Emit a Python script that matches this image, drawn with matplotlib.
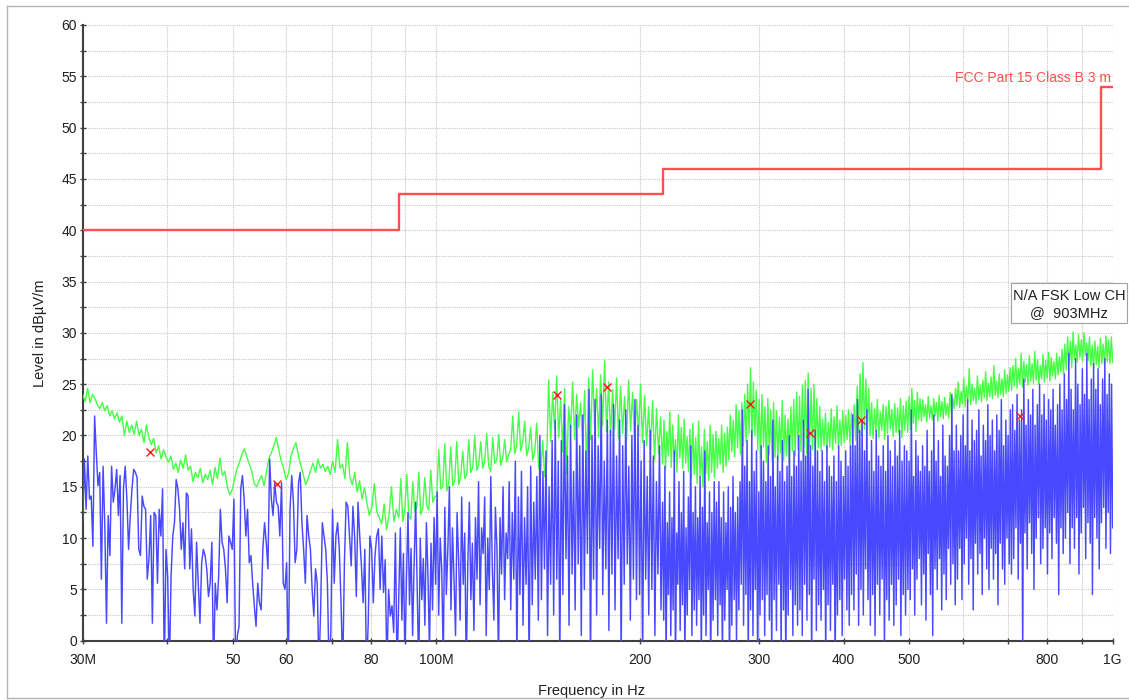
import numpy as np
import matplotlib
matplotlib.use("Agg")
import matplotlib.pyplot as plt
from matplotlib.ticker import FixedLocator, NullLocator, MultipleLocator
from matplotlib.lines import Line2D
from matplotlib.patches import Rectangle

plt.rcParams["font.family"] = ["Liberation Sans", "DejaVu Sans"]
# keep every sweep point of the dense traces
plt.rcParams["path.simplify"] = False

MHZ = 1e6

# Sweep sub-ranges in MHz; each trace is stored as one list per sub-range
band_edges = [30, 88, 216, 500, 1000]

# Peak trace (green), dBuV/m
peak_30_88 = [
    24.0, 23.3, 24.6, 23.2, 24.0, 23.6, 23.0, 22.6, 23.2, 22.4, 22.9, 21.9,
    22.4, 21.6, 22.2, 21.3, 21.9, 20.0, 21.4, 20.3, 21.0, 20.1, 21.4, 20.0,
    20.6, 19.3, 21.0, 19.8, 19.1, 19.7, 18.3, 19.0, 17.7, 18.6, 17.9,
    17.4, 18.0, 16.7, 17.3, 16.4, 17.6, 16.8, 18.1, 16.6, 17.0, 15.5, 16.4,
    15.9, 16.8, 15.4, 16.2, 15.7, 16.6, 15.2, 16.9, 15.8, 17.8, 16.1, 16.5,
    15.0, 14.2, 14.7, 15.8, 16.8, 17.4, 18.2, 18.7, 17.9, 17.2, 16.5, 15.3,
    15.0, 15.6, 16.1, 15.1, 16.5, 17.8, 18.3, 19.0, 19.8, 18.6, 17.5, 16.8,
    15.7, 16.3, 18.0, 18.7, 19.3, 18.1, 17.1, 16.2, 15.2, 15.8, 16.6, 17.3,
    16.4, 17.7, 16.8, 17.2, 16.5, 17.0, 16.2, 17.5, 16.4, 19.6, 16.8, 17.2,
    15.8, 19.3, 16.0, 15.2, 16.4, 14.5, 15.6, 13.8, 14.9, 13.4, 12.2, 13.0,
    15.3, 12.6, 12.0, 11.4, 13.3, 10.8, 12.2, 15.0, 11.6, 12.8,
]
peak_88_216 = [
    12.0, 15.8, 11.6, 12.8, 16.2, 12.2, 11.8, 15.5, 12.6, 13.0, 16.4, 12.3,
    12.9, 15.9, 13.2, 12.7, 16.6, 13.5, 14.0,
    14.2, 18.6, 14.8, 15.0, 19.2, 14.6, 15.3, 18.9, 15.1, 15.6, 19.4, 15.2,
    16.0, 18.5, 15.8, 16.2, 19.6,
    16.4, 16.9, 20.0, 16.6, 17.2, 19.4, 16.8, 17.5, 20.2, 17.0, 16.5, 19.8,
    17.3, 17.6, 20.1, 17.1, 17.8, 19.6, 17.4, 18.2,
    18.6, 21.9, 18.2, 19.0, 22.3, 18.5, 19.3, 21.4, 18.0, 18.8,
    20.8, 17.6, 18.4, 21.2, 17.0, 16.2, 19.5, 16.0, 17.4,
    25.4, 19.4, 24.2, 20.6, 25.8, 19.8, 23.5, 18.4, 24.6, 16.2, 22.8, 20.4,
    25.2, 19.6, 24.0, 20.8, 23.2, 19.1, 24.4, 16.5,
    25.6, 19.6, 26.4, 20.8, 24.6, 19.8, 25.9, 21.0, 27.3, 20.4, 25.2, 19.9, 24.5,
    20.6, 25.6, 19.7, 24.8, 20.2, 23.8, 19.5, 25.4, 20.5, 24.2, 19.4, 23.5,
    20.1, 25.0, 19.3, 23.9, 19.0, 22.8,
    18.5, 23.4, 17.6, 22.6, 18.2, 21.8,
]
peak_216_500 = [
    17.2, 21.5, 16.6, 20.4, 18.0, 22.3, 16.9, 21.0, 17.5, 19.6, 16.4, 22.0,
    17.8, 20.8, 16.8, 21.6, 17.3, 19.9, 16.5, 20.6, 15.8, 21.2, 16.2,
    19.8, 15.3, 21.4, 16.0, 18.9, 15.0, 20.6, 16.3, 19.4, 15.6, 21.0, 16.4, 20.1, 15.9,
    20.4, 16.8, 19.7, 17.2, 21.0, 16.4, 20.2, 17.0, 20.8,
    17.6, 22.0, 18.4, 21.5, 17.9, 23.0, 18.8, 22.4, 18.2, 23.2, 19.0, 24.0,
    19.4, 25.0, 20.2, 26.6, 19.6, 25.2, 20.0,
    24.4, 18.6, 23.5, 17.8, 24.0, 18.9, 22.8, 17.4, 23.6, 18.2, 22.5, 17.6, 23.2, 17.9,
    22.4, 17.5, 21.8, 18.3, 23.4, 17.6, 22.0, 18.0, 21.6, 17.4, 22.8, 18.5,
    23.5, 18.0, 24.2, 18.6,
    23.8, 18.4, 24.9, 18.9, 25.4, 18.2, 26.1, 19.0, 24.6, 18.6, 25.0, 18.3, 23.6, 18.8,
    22.8, 18.5, 21.6, 19.0, 22.2, 18.4, 21.3, 18.9, 22.6, 18.6, 21.8, 19.2,
    22.9, 18.7, 21.5, 19.0, 22.4,
    19.3, 22.0, 19.6, 22.5, 19.1, 22.2, 19.8, 23.0, 19.5,
    24.8, 20.3, 26.0, 20.0, 27.1, 20.6, 25.5, 20.2, 24.6,
    20.0, 23.2, 19.7, 22.6, 20.4, 23.5, 19.8, 22.3, 20.5, 23.0, 19.6, 22.8,
    20.2, 23.4, 20.6, 22.5, 19.9, 23.1, 20.3, 22.7, 20.1, 23.6, 19.8, 22.9,
    20.5, 23.3, 20.3,
]
peak_500_1000 = [
    23.8, 20.6, 24.6, 21.2, 23.4, 20.4, 24.2, 21.5, 23.6,
    21.4, 23.5, 21.8, 23.0, 21.3, 23.8, 21.7, 22.9, 21.5, 23.6, 21.9, 23.2,
    21.4, 23.9, 21.8, 23.3, 21.6, 23.7, 22.0, 23.1, 21.7, 24.2, 22.1, 23.6,
    22.6, 24.6, 22.9, 25.2, 22.7, 24.3, 23.1, 25.6, 22.8, 24.8, 23.2, 26.5,
    23.0, 25.0, 23.4, 24.6, 23.1, 25.8, 23.5, 24.9, 23.3, 25.4, 23.7, 26.2,
    23.4, 25.1, 23.8, 25.7, 23.6, 26.8, 23.9, 25.3, 23.7, 26.0, 24.0, 25.5,
    23.8, 26.4, 24.1, 25.9, 24.3, 26.6,
    24.4, 26.8, 24.8, 27.5, 24.6, 26.5, 25.0, 28.0, 24.7, 27.2, 25.2, 26.9,
    24.9, 27.8, 25.3, 27.0, 25.1, 28.2, 25.4, 27.4, 25.0, 26.8, 25.5, 27.9,
    25.2, 27.3, 25.6, 28.1, 25.3, 27.6, 25.8, 27.2, 25.5, 28.0, 25.9, 27.7,
    26.2, 28.4, 26.0,
    28.9, 26.4, 29.6, 27.0, 29.2, 26.6, 30.1, 27.4, 28.8, 27.1, 29.8, 27.6,
    29.3, 27.2, 30.0, 27.8, 29.0, 27.3, 29.6, 26.8,
    28.8, 26.5, 29.2, 26.9, 28.7, 26.6, 29.5, 27.0, 28.9, 26.8, 29.7, 27.2,
    29.3, 27.0, 29.6, 27.1,
]

# Second detector trace (blue), dBuV/m; values under 0 fall below the axis
avg_30_88 = [
    11.5, 17.7, 12.8, 18.0, 13.8, 14.1, 9.2, 21.9, 18.3, 15.1,
    16.4, 6.0, 17.0, 11.2, 1.7, 12.2, 8.3, 17.0, 13.5, 14.8,
    16.7, 12.2, 16.1, 1.7, 14.8, 17.0, 13.8, 8.9, 12.2, 14.8,
    16.7, 16.4, 15.9, 8.9, 8.3, 14.1, 13.1, 12.8, 6.0, 8.0,
    12.2, 1.7, 12.5, 12.2, 5.6, 12.8, 10.2, 14.8, -3, 8.9,
    6.3, -3, 6.3, 10.2, 11.5, 15.7, 14.8, 12.8, 8.9, 11.5,
    7.0, 14.4, 14.1, 7.0, 10.9, 5.0, 2.4, 9.6, 5.6, 1.7,
    7.6, 8.9, 8.3, 7.0, 4.3, 5.6, 9.6, -3, 5.6, 3.0,
    6.3, 12.8, 9.6, 8.9, 7.0, 3.7, 10.2, 9.6, 8.9, 13.8,
    -3, 0.5, 1.4, 14.8, 16.1, 13.8, 10.2, 12.8, 7.6, 8.3,
    5.6, 3.4, 1.4, 5.6, 3.7, 3.0, 8.9, 11.5, 9.6, 7.0,
    17.7, 13.8, 12.2, 15.4, 13.5, 13.1, 10.2, 15.4, 5.6, 5.0,
    7.6, -3, 12.8, 16.1, 13.5, 7.6, 8.9, 15.4, 16.4, 11.5,
    8.9, 5.6, 12.2, 10.2, 8.9, 5.0, 2.4, 7.0, 5.6, -3,
    3.0, 11.5, 10.2, 8.9, 5.6, -3, 0.8, 12.8, 5.6, 10.2,
    11.5, 8.9, 3.7, -3, 7.6, 13.5, 13.1, 10.2, 7.3, 13.1,
    10.2, 4.3, 13.5, 10.2, 7.3, 3.7, 8.9, -3, 1.7, 10.2,
    8.9, 3.7, 8.3, 10.2, 10.9, 5.0,
    10.2, 4.7, 7.9, -3, 5.0, 2.4, 3.4, 0.8, 10.5, -3,
]
avg_88_216 = [
    4.5, 11.0, 2.0, 8.5, -2, 6.0, 12.5, 3.5, 9.0, 0.5, 7.5, 13.5, 5.0, -3,
    10.0, 4.0, 8.0, 1.5, 11.5, 6.5, -1, 9.5, 3.0, 12.0,
    5.5, 14.5, 2.5, 10.0, 7.0, -2, 13.0, 4.5, 9.0, 15.0, 3.0, 11.0, 6.0, 0.5,
    12.5, 8.0, 2.0, 14.0, 5.5, 10.5, -3, 7.5, 13.5, 4.0, 9.5, 1.0, 12.0,
    6.0, 15.5, 3.5, 11.0, 8.5, 14.0, 0.5, 10.0, 5.0, 16.0, 7.0, 2.0, 13.0,
    9.0, -2, 12.0, 6.5, 15.0, 4.0, 10.5, 8.0,
    15.5, 3.0, 12.5, 6.0, 17.5, -2, 14.0, 4.5, 16.5, 1.5, 12.0, 5.5, 15.0, -3,
    17.0, 3.5, 13.5, 6.0, 16.0, 2.0,
    20.0, 4.0, 16.5, 7.0, 18.5, 0.5, 15.0, 5.5, 19.5, 2.5,
    21.5, 6.0, 17.5, -2, 19.5, 4.5, 23.0, 8.0, 18.0, 1.5, 21.0, 6.5, 16.5, 3.0,
    22.0, 7.5, 19.0, 0.5,
    22.0, 5.0, 18.5, 8.5, 24.5, -3, 20.0, 6.0, 23.5, 2.5, 19.0, 9.0, 24.0, 4.5,
    17.5, 7.0, 21.5, 1.0,
    20.5, 6.5, 23.0, 3.0, 18.0, 8.0, 21.5, -2, 19.0, 5.5, 22.5, 7.5, 17.0, 2.0,
    20.0, 6.0, 23.5, 4.0,
    21.0, 4.5, 17.5, -2, 19.5, 6.0, 16.0, 2.5, 20.5, 5.0, 18.0, 0.5, 15.5, 6.5,
    19.0, 3.0,
]
avg_216_500 = [
    13.5, 2.0, 17.0, -2, 11.5, 4.5, 14.5, 0.5, 12.0, 3.0, 18.5, -3, 10.5, 5.5,
    15.5, 1.0, 12.5, 3.5, 16.5, -2, 11.0, 2.5, 14.0, 5.0, 19.0, 0.5, 12.5, 3.0,
    15.0, 1.5, 12.0, 4.0, 16.0, -2, 13.0, 2.5, 18.5, 0.5, 11.5, 5.0, 14.5, -3,
    12.5, 2.0, 15.5, 4.0,
    13.5, 0.5, 15.5, 3.5, 12.0, -2, 14.5, 2.0, 11.5, 5.0, 15.0, -3, 13.0, 1.5,
    16.0, 4.0, 12.5, 0.0, 14.0, 3.0, 15.5, 5.5,
    22.5, 1.5, 17.0, 4.5, 19.5, -2, 15.5, 3.0, 20.5, 0.5, 16.5, 5.0, 18.5, -3,
    14.5, 2.5, 19.0, 4.0,
    17.5, 0.5, 15.5, 4.5, 19.0, 2.0, 16.0, -2, 21.5, 4.0, 15.0, 1.0, 18.0, 5.5,
    16.5, -1, 19.5, 3.0, 15.5, -3, 17.0, 2.5, 20.0, 5.0, 16.0, 0.5, 18.5, 3.5,
    17.0, 1.5,
    20.0, 3.0, 17.5, 0.5, 21.5, 5.5, 18.0, 2.0, 24.5, 4.5, 19.0, -2, 17.0, 6.0,
    20.5, 1.0, 18.5, 3.5,
    16.5, 2.0, 18.5, 5.0, 15.5, -2, 19.0, 3.5, 17.0, 1.0, 16.0, 5.5, 18.0, -3,
    15.5, 2.5, 19.0, 4.0, 17.5, 0.5, 16.0, 6.0, 18.5, 3.0, 17.0, 1.5, 19.0, 4.5,
    22.0, 3.0, 19.0, 6.5, 23.5, 1.5, 20.5, 5.0, 21.5, 2.5, 18.5, 7.0, 22.5, 4.0,
    17.5, 1.5, 19.5, 4.5, 16.5, 0.5, 20.5, 5.5, 18.0, 2.5, 17.0, 6.0, 19.0, -1,
    16.5, 4.0, 20.0, 2.0, 18.5, 5.5, 17.0, 1.5, 19.5, 3.5, 18.0, 6.0, 20.5, 0.5,
    17.5, 4.5, 19.0, 2.5, 18.5, 5.0,
]
avg_500_1000 = [
    17.5, 4.0, 22.5, 7.0, 16.0, 2.5, 19.5, 6.0, 18.0, 8.0, 16.5, 3.5,
    19.0, 6.5, 17.0, 2.0, 20.5, 8.5, 16.5, 4.5, 18.5, 0.5, 22.0, 7.0, 17.5, 5.0,
    19.5, 8.0, 16.0, 3.0, 21.0, 6.5, 18.0, 4.0, 17.0, 9.0, 20.0, 5.5, 24.0, 7.5,
    18.5, 3.5,
    21.0, 6.0, 18.5, 9.0, 20.0, 4.0, 22.0, 7.5, 19.0, 10.0, 23.5, 5.5, 18.5, 8.0,
    21.5, 3.0, 19.5, 9.5, 20.5, 6.5, 22.5, 8.5, 18.0, 4.5, 21.0, 10.0, 19.5, 7.0,
    23.0, 5.0, 20.0, 9.0, 21.5, 6.0, 18.5, 8.5, 22.0, 3.5, 20.5, 9.5, 23.5, 7.0,
    19.0, 5.5, 21.5, 10.0, 20.0, 7.5, 22.5, 6.5,
    23.0, 8.0, 20.5, 11.0, 24.0, 6.0, 21.5, 9.5, 22.5, -2, 25.5, 10.5, 21.0, 7.0,
    23.5, 11.5, 22.0, 8.5, 24.5, 5.0, 21.0, 10.0, 23.0, 12.0, 25.0, 7.5, 22.0, 9.0,
    24.0, 11.0, 21.5, 6.5, 23.5, 10.5, 22.5, 8.0, 24.5, 12.0, 21.0, 9.5, 23.0, 4.5,
    25.0, 11.0, 22.5, 8.5,
    26.0, 10.0, 23.5, 12.5, 28.0, 7.5, 24.5, 11.0, 22.5, 9.0, 27.5, 12.0, 25.0, 6.5,
    23.0, 10.5, 26.5, 13.0, 24.0, 8.0, 28.0, 11.5, 23.5, 9.5, 25.5, 4.5, 27.0, 12.0,
    24.5, 10.0, 26.5, 7.0, 23.0, 11.5, 25.5, 13.0, 27.5, 9.0, 24.0, 12.5, 26.0, 8.5,
    25.0, 11.0,
]

# FCC Part 15 Class B (3 m) radiated limit
limit_edges_mhz = [30, 88, 216, 960, 1000]
limit_levels = [40.0, 43.5, 46.0, 54.0, 54.0]

# Marked peaks
marker_freq_mhz = [37.7, 58.2, 150.8, 178.7, 291.2, 357.4, 424.7, 728.9]
marker_level = [18.4, 15.3, 23.9, 24.7, 23.1, 20.2, 21.5, 21.9]

# Frequency axis ticks
xtick_mhz = [30, 40, 50, 60, 70, 80, 90, 100, 200, 300, 400, 500, 600, 700, 800, 900, 1000]
xtick_labels = ["30M", "", "50", "60", "", "80", "", "100M", "200", "300", "400",
                "500", "", "", "800", "", "1G"]


def sweep(edges, parts):
    """Join the sub-range lists onto log-spaced frequency points."""
    freqs, vals = [], []
    for i, seg in enumerate(parts):
        last = i == len(parts) - 1
        freqs.append(np.geomspace(edges[i], edges[i + 1], len(seg), endpoint=last))
        vals.append(np.asarray(seg, dtype=float))
    return np.concatenate(freqs) * MHZ, np.concatenate(vals)


f_peak, v_peak = sweep(band_edges, [peak_30_88, peak_88_216, peak_216_500, peak_500_1000])
f_avg, v_avg = sweep(band_edges, [avg_30_88, avg_88_216, avg_216_500, avg_500_1000])

W, H = 1129, 700
fig = plt.figure(figsize=(W / 100, H / 100), dpi=100)
fig.patch.set_facecolor("white")

ax = fig.add_axes([82.7 / W, 59.3 / H, 1030 / W, 615.7 / H])
ax.set_xscale("log")

GREEN = "#46ff46"
BLUE = "#4848ff"
RED = "#ff5050"

ax.plot(f_peak, v_peak, color=GREEN, lw=1.0, zorder=3)
ax.plot(f_avg, v_avg, color=BLUE, lw=1.05, zorder=4)
ax.plot(np.array(limit_edges_mhz) * MHZ, limit_levels, drawstyle="steps-post",
        color=RED, lw=1.7, zorder=5)
ax.plot(np.array(marker_freq_mhz) * MHZ, marker_level, linestyle="none", marker="x",
        color="#ff1a1a", ms=5.5, mew=1.0, zorder=6)

ax.set_xlim(30 * MHZ, 1000 * MHZ)
ax.set_ylim(0, 60)

ax.xaxis.set_major_locator(FixedLocator(np.array(xtick_mhz) * MHZ))
ax.xaxis.set_minor_locator(NullLocator())
ax.set_xticklabels(xtick_labels)
ax.yaxis.set_major_locator(MultipleLocator(5))
ax.yaxis.set_minor_locator(MultipleLocator(2.5))

ax.grid(True, which="both", color="#c8c8c8", linestyle=(0, (1, 1)), lw=0.8, zorder=0)
ax.set_axisbelow(True)

for side in ("top", "right"):
    ax.spines[side].set_visible(False)
for side in ("left", "bottom"):
    ax.spines[side].set_color("#404040")
    ax.spines[side].set_linewidth(1.5)

ax.tick_params(which="both", direction="inout", length=4.8, width=1.0,
               color="#404040", labelcolor="#202020", labelsize=10)
ax.tick_params(axis="x", pad=6.5)
ax.tick_params(axis="y", pad=1.7)

ax.annotate("FCC Part 15 Class B 3 m", xy=(1000 * MHZ, 54), xytext=(-1, 3),
            textcoords="offset points", ha="right", va="baseline",
            color=RED, fontsize=10)

fig.text(40 / W, 1 - 333 / H, "Level in dBµV/m", rotation=90, ha="center",
         va="center", fontsize=10.5, color="#202020")
fig.text(592 / W, 1 - 695 / H, "Frequency in Hz", ha="center", va="baseline",
         fontsize=10.5, color="#202020")

# Trace label box
fig.patches.append(Rectangle((1011 / W, 1 - 323 / H), 116 / W, 40 / H,
                             transform=fig.transFigure, facecolor="white",
                             edgecolor="#a0a0a0", lw=0.8, zorder=10))
fig.text(1069 / W, 1 - 296 / H, "N/A FSK Low CH", ha="center", va="center",
         fontsize=10.5, color="#202020", zorder=11)
fig.text(1069 / W, 1 - 313 / H, "@  903MHz", ha="center", va="center",
         fontsize=10.5, color="#202020", zorder=11)

# Outer frame (left, top, bottom)
frame_kw = dict(transform=fig.transFigure, color="#b4b4b4", lw=1.0, zorder=20)
fig.lines.append(Line2D([7 / W, 7 / W], [1 - 698 / H, 1 - 6 / H], **frame_kw))
fig.lines.append(Line2D([7 / W, 1.0], [1 - 6 / H, 1 - 6 / H], **frame_kw))
fig.lines.append(Line2D([7 / W, 1.0], [1 - 698 / H, 1 - 698 / H], **frame_kw))

fig.savefig("out.png", dpi=100, facecolor="white")
